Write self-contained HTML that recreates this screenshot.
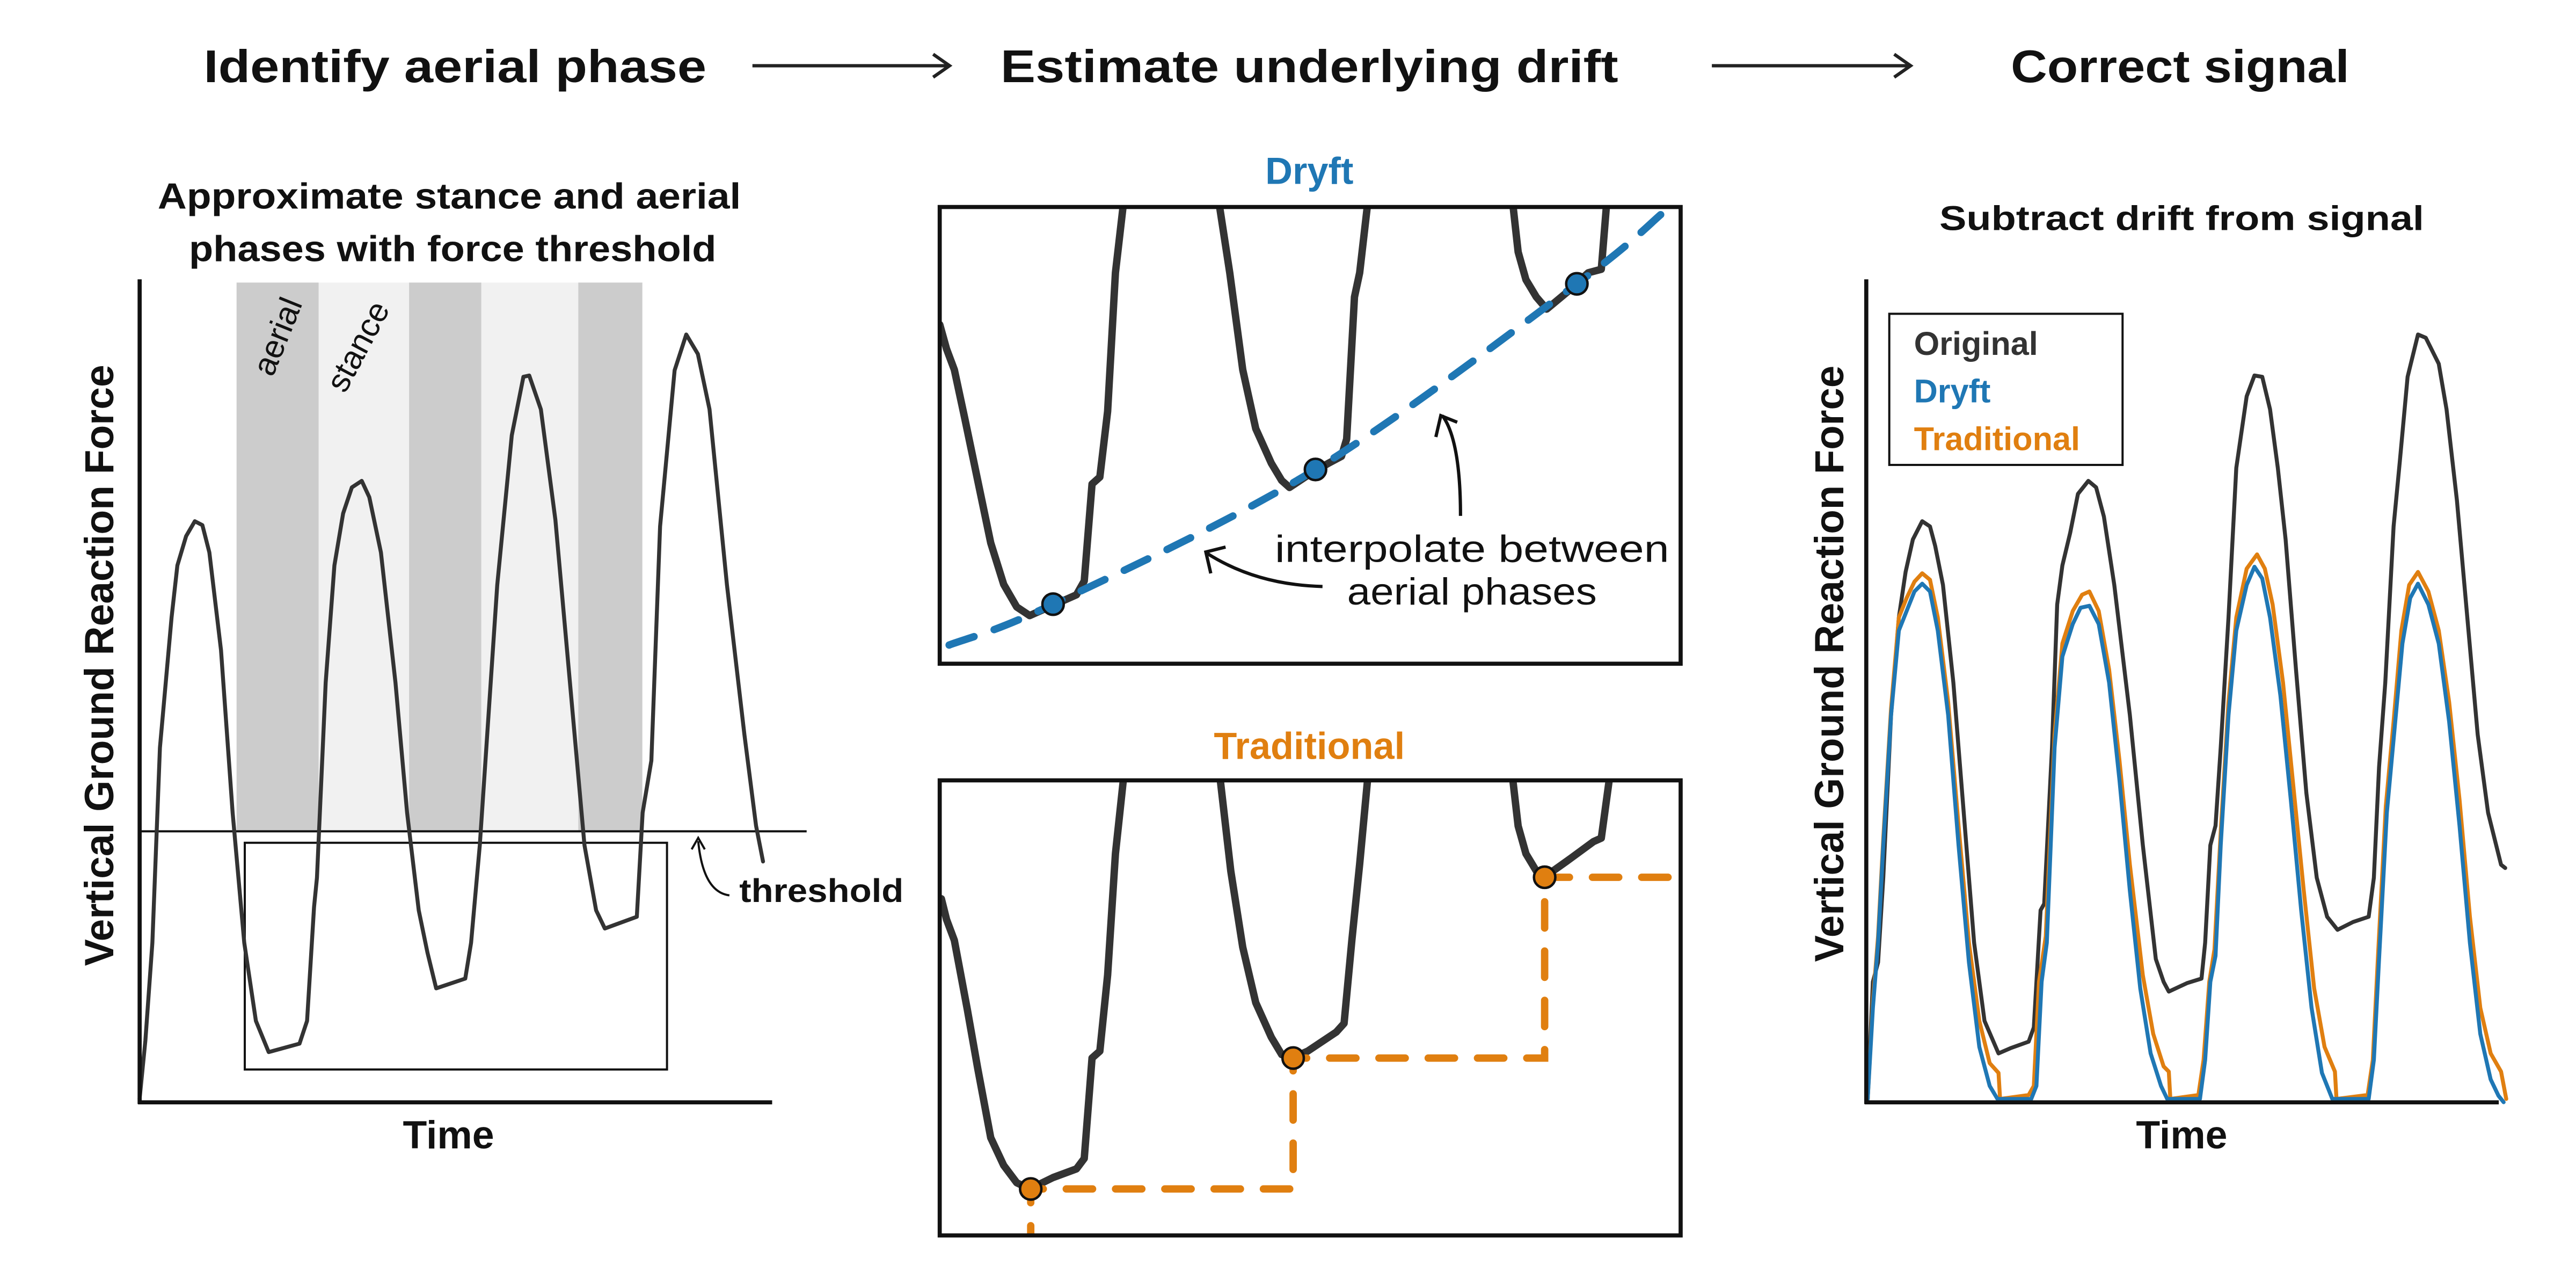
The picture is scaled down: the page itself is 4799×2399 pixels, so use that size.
<!DOCTYPE html>
<html><head><meta charset="utf-8"><style>
html,body{margin:0;padding:0;background:#fff}
svg{display:block}
text{font-family:"Liberation Sans",sans-serif;font-weight:bold}
</style></head><body>
<svg id="fig" width="4799" height="2399" viewBox="0 0 1568 784" preserveAspectRatio="none" xmlns="http://www.w3.org/2000/svg">
<defs>
<clipPath id="clipD"><rect x="572" y="126" width="451" height="278"/></clipPath>
<clipPath id="clipT"><rect x="572" y="475" width="451" height="276"/></clipPath>
</defs>
<!-- headers -->
<text x="124" y="50" font-size="28" textLength="306" lengthAdjust="spacingAndGlyphs" fill="#111">Identify aerial phase</text>
<text x="609" y="50" font-size="28" textLength="376" lengthAdjust="spacingAndGlyphs" fill="#111">Estimate underlying drift</text>
<text x="1224" y="50" font-size="28" textLength="206" lengthAdjust="spacingAndGlyphs" fill="#111">Correct signal</text>
<g stroke="#222" stroke-width="2" fill="none"><line x1="458" y1="40" x2="578" y2="40"/><polyline points="568,33 578,40 568,47"/></g>
<g stroke="#222" stroke-width="2" fill="none"><line x1="1042" y1="40" x2="1163" y2="40"/><polyline points="1153,33 1163,40 1153,47"/></g>

<!-- left panel -->
<text x="96" y="127" font-size="22" textLength="355" lengthAdjust="spacingAndGlyphs" fill="#111">Approximate stance and aerial</text>
<text x="115" y="159" font-size="22" textLength="321" lengthAdjust="spacingAndGlyphs" fill="#111">phases with force threshold</text>
<g>
<rect x="144" y="172" width="50" height="334" fill="#cccccc"/>
<rect x="194" y="172" width="55" height="334" fill="#f1f1f1"/>
<rect x="249" y="172" width="44" height="334" fill="#cccccc"/>
<rect x="293" y="172" width="59" height="334" fill="#f1f1f1"/>
<rect x="352" y="172" width="39" height="334" fill="#cccccc"/>
</g>
<text transform="translate(166,230) rotate(-68)" font-size="20" font-weight="normal" style="font-weight:normal" fill="#111">aerial</text>
<text transform="translate(210,240) rotate(-62)" font-size="20" style="font-weight:normal" fill="#111">stance</text>
<rect x="149" y="513" width="257" height="138" fill="none" stroke="#111" stroke-width="1.3"/>
<line x1="85" y1="506" x2="491" y2="506" stroke="#111" stroke-width="1.3"/>
<path d="M444,545 Q428,543 425,512" fill="none" stroke="#111" stroke-width="1.3"/>
<polyline points="421,517 425,510 429,517" fill="none" stroke="#111" stroke-width="1.3"/>
<text x="450" y="549" font-size="20" textLength="100" lengthAdjust="spacingAndGlyphs" fill="#111">threshold</text>
<g id="leftPlot"></g>
<line x1="85" y1="170" x2="85" y2="672" stroke="#111" stroke-width="2.5"/>
<line x1="84" y1="671" x2="470" y2="671" stroke="#111" stroke-width="2.5"/>
<text transform="translate(69,405) rotate(-90)" text-anchor="middle" font-size="25" textLength="366" lengthAdjust="spacingAndGlyphs" fill="#111">Vertical Ground Reaction Force</text>
<text x="273" y="699" text-anchor="middle" font-size="24" fill="#111">Time</text>

<!-- middle: dryft -->
<text x="797" y="112" text-anchor="middle" font-size="23" fill="#1f77b4">Dryft</text>
<g id="dryftPlot" clip-path="url(#clipD)"></g>
<g id="dryftMarks"></g>
<rect x="572" y="126" width="451" height="278" fill="none" stroke="#111" stroke-width="2.5"/>
<text x="896" y="342" text-anchor="middle" font-size="23" textLength="240" lengthAdjust="spacingAndGlyphs" style="font-weight:normal" fill="#111">interpolate between</text>
<text x="896" y="368" text-anchor="middle" font-size="23" textLength="152" lengthAdjust="spacingAndGlyphs" style="font-weight:normal" fill="#111">aerial phases</text>
<path d="M805,357 Q765,356 735,337" fill="none" stroke="#111" stroke-width="2"/>
<polyline points="737,349 734,336 746,333" fill="none" stroke="#111" stroke-width="2"/>
<path d="M889,314 Q889,268 878,253" fill="none" stroke="#111" stroke-width="2"/>
<polyline points="874,266 877,253 887,257" fill="none" stroke="#111" stroke-width="2"/>

<!-- middle: traditional -->
<text x="797" y="462" text-anchor="middle" font-size="23" fill="#e07f10">Traditional</text>
<g id="tradPlot" clip-path="url(#clipT)"></g>
<g id="tradMarks"></g>
<rect x="572" y="475" width="451" height="277" fill="none" stroke="#111" stroke-width="2.5"/>

<!-- right panel -->
<text x="1328" y="140" text-anchor="middle" font-size="21" textLength="295" lengthAdjust="spacingAndGlyphs" fill="#111">Subtract drift from signal</text>
<g id="rightPlot"></g>
<line x1="1136" y1="170" x2="1136" y2="672" stroke="#111" stroke-width="2.5"/>
<line x1="1135" y1="671" x2="1521" y2="671" stroke="#111" stroke-width="2.5"/>
<text transform="translate(1122,404) rotate(-90)" text-anchor="middle" font-size="25" textLength="363" lengthAdjust="spacingAndGlyphs" fill="#111">Vertical Ground Reaction Force</text>
<text x="1328" y="699" text-anchor="middle" font-size="24" fill="#111">Time</text>
<g>
<rect x="1150" y="191" width="142" height="92" fill="#fff" stroke="#111" stroke-width="1.3"/>
<text x="1165" y="216" font-size="20" fill="#333">Original</text>
<text x="1165" y="245" font-size="20" fill="#1f77b4">Dryft</text>
<text x="1165" y="274" font-size="20" fill="#e07f10">Traditional</text>
</g>
</svg>
<script>
// ---- left panel data (raw time / force units) ----
const leftTime=[240,250,262,275,295,305,320,335,348,360,380,400,420,440,462,515,528,540,545,560,575,590,605,622,635,655,680,700,720,735,750,800,810,825,855,880,900,910,930,955,985,1005,1025,1040,1095,1105,1120,1135,1160,1180,1200,1220,1250,1280,1300,1312];
const leftForce=[5,95,245,545,745,825,870,893,887,845,695,445,245,125,77,90,125,300,345,645,825,905,945,955,930,845,645,445,295,230,175,190,245,395,795,1025,1115,1117,1065,895,595,395,295,267,285,445,525,885,1125,1180,1150,1065,795,565,425,370];
// ---- right panel data ----
const origTime=[185,195,205,215,230,245,258,272,290,305,315,330,350,370,390,410,437,460,495,505,518,525,540,550,560,575,590,610,625,640,660,690,715,740,755,765,800,828,835,845,855,865,880,895,915,930,945,960,975,990,1010,1030,1050,1070,1090,1120,1150,1160,1170,1182,1198,1210,1225,1245,1260,1285,1300,1320,1340,1360,1380,1395,1405,1413];
const origForce=[5,185,215,345,595,745,815,865,893,885,855,795,645,445,245,125,75,83,93,115,295,305,545,765,825,875,935,955,945,900,795,595,395,220,185,170,183,190,245,395,425,545,745,975,1085,1117,1115,1065,975,865,665,475,345,285,265,277,285,345,515,645,885,985,1115,1180,1175,1135,1065,925,745,565,445,397,365,360];
const dryftTime=[185,195,205,215,230,245,260,275,290,305,320,340,360,380,400,420,435,500,510,520,530,545,560,580,595,612,630,650,670,690,710,730,750,762,825,835,845,855,865,880,895,915,930,945,960,980,1000,1020,1040,1060,1080,1150,1160,1170,1185,1200,1215,1230,1245,1265,1285,1305,1325,1345,1365,1385,1400,1410];
const dryftForce=[5,145,245,395,595,725,755,785,797,785,725,595,395,215,85,25,5,5,25,185,245,545,685,735,760,763,735,645,495,325,175,75,25,5,5,65,185,225,395,595,725,795,823,805,745,625,465,295,145,45,5,5,65,220,445,575,705,775,797,765,705,585,425,245,105,35,10,0];
const tradTime=[185,195,205,215,230,245,260,275,290,305,320,340,360,380,400,420,437,440,495,505,515,528,545,560,580,598,612,630,650,670,690,715,735,755,765,768,822,832,843,853,865,880,895,915,935,950,965,985,1005,1025,1045,1065,1085,1088,1148,1158,1168,1183,1198,1213,1228,1245,1265,1285,1305,1325,1345,1365,1385,1405,1415];
const tradForce=[5,155,255,405,605,745,775,800,813,803,745,615,425,245,125,60,45,5,11,25,185,255,565,705,755,780,785,755,665,525,365,195,105,55,47,5,11,65,185,235,415,615,745,820,842,820,765,645,485,325,175,85,47,5,11,65,225,455,585,725,795,815,785,725,615,465,285,145,75,47,5];
// ---- middle (zoomed) panels ----
const dSeg1T=[52,65,80,100,125,150,175,200,225,270,315,330,345,360,375,390,405,412];
const dSeg1F=[1050,980,920,780,600,420,300,235,210,240,270,310,590,610,800,1200,1395,1500];
const dSeg2T=[585,590,610,635,660,690,710,725,760,800,825,835,850,860,875,878];
const dSeg2F=[1500,1395,1200,920,750,650,600,580,615,650,670,720,1130,1200,1395,1500];
const dSeg3T=[1145,1155,1165,1180,1200,1220,1260,1300,1325,1335,1340];
const dSeg3F=[1500,1395,1260,1180,1130,1095,1145,1200,1210,1395,1500];
const driftT=[70,270,775,1278,1445];
const driftF=[125,243,632,1168,1375];
const tSeg1T=[55,65,80,105,125,150,175,200,225,270,315,330,345,360,375,390,405,410];
const tSeg1F=[1020,960,900,700,530,330,250,200,182,215,240,270,560,580,800,1150,1360,1450];
const tSeg2T=[585,592,612,635,660,690,710,730,760,815,830,845,860,875,878];
const tSeg2F=[1450,1360,1100,880,720,620,570,560,580,635,660,900,1120,1360,1450];
const tSeg3T=[1148,1155,1165,1180,1200,1215,1260,1310,1325,1340,1343];
const tSeg3F=[1450,1360,1230,1150,1100,1082,1130,1185,1195,1360,1450];
const stepT=[227,732,1216];
const stepF=[182,560,1082];
const stepEndT=1478;
const stepStartF=0;

// axis functions
const xLeft=t=>0.354*t, yLeft=f=>670.9-0.396*f;
const xRight=t=>1078.4+0.316*t, yRight=f=>670.9-0.396*f;
const xMid=t=>555.6+0.3163*t;
const yDryft=f=>81.7+0.2108*(1600-f);
const yTrad=f=>424.8+0.2108*(1600-f);
const NS='http://www.w3.org/2000/svg';

function pts(T,F,xs,ys){return T.map((t,i)=>xs(t).toFixed(2)+','+ys(F[i]).toFixed(2)).join(' ');}
function poly(parent,T,F,xs,ys,color,w){
  const p=document.createElementNS(NS,'polyline');
  p.setAttribute('points',pts(T,F,xs,ys));
  p.setAttribute('fill','none');p.setAttribute('stroke',color);p.setAttribute('stroke-width',w);
  p.setAttribute('stroke-linejoin','round');p.setAttribute('stroke-linecap','round');
  parent.appendChild(p);return p;
}
function dot(parent,cx,cy,color){
  const c=document.createElementNS(NS,'circle');
  c.setAttribute('cx',cx);c.setAttribute('cy',cy);c.setAttribute('r',6.5);
  c.setAttribute('fill',color);c.setAttribute('stroke','#111');c.setAttribute('stroke-width',1.5);
  parent.appendChild(c);return c;
}
// left
let el=poly(document.getElementById('leftPlot'),leftTime,leftForce,xLeft,yLeft,'#333',2.4);


// right
const rp=document.getElementById('rightPlot');
el=poly(rp,origTime,origForce,xRight,yRight,'#333',2.4);


el=poly(rp,tradTime,tradForce,xRight,yRight,'#e07f10',2.4);


el=poly(rp,dryftTime,dryftForce,xRight,yRight,'#1f77b4',2.4);


// dryft middle
const dp=document.getElementById('dryftPlot');
[[dSeg1T,dSeg1F],[dSeg2T,dSeg2F],[dSeg3T,dSeg3F]].forEach(([T,F],i)=>{
  const s=poly(dp,T,F,xMid,yDryft,'#333',4.5);
  
  
});
// smooth drift curve (catmull-rom)
const P=driftT.map((t,i)=>[xMid(t),yDryft(driftF[i])]);
let d='M'+P[0][0]+','+P[0][1];
for(let i=0;i<P.length-1;i++){
  const p0=P[Math.max(i-1,0)],p1=P[i],p2=P[i+1],p3=P[Math.min(i+2,P.length-1)];
  const c1=[p1[0]+(p2[0]-p0[0])/6,p1[1]+(p2[1]-p0[1])/6];
  const c2=[p2[0]-(p3[0]-p1[0])/6,p2[1]-(p3[1]-p1[1])/6];
  d+=' C'+c1.join(',')+' '+c2.join(',')+' '+p2.join(',');
}
const dl=document.createElementNS(NS,'path');
dl.setAttribute('d',d);dl.setAttribute('fill','none');dl.setAttribute('stroke','#1f77b4');
dl.setAttribute('stroke-width',4.5);dl.setAttribute('stroke-dasharray','16 13');dl.setAttribute('stroke-linecap','round');


dp.appendChild(dl);
const dm=document.getElementById('dryftMarks');
[1,2,3].forEach(i=>{
  const c=dot(dm,xMid(driftT[i]),yDryft(driftF[i]),'#1f77b4');
  
  
});
// traditional middle
const tp=document.getElementById('tradPlot');
[[tSeg1T,tSeg1F],[tSeg2T,tSeg2F],[tSeg3T,tSeg3F]].forEach(([T,F],i)=>{
  const s=poly(tp,T,F,xMid,yTrad,'#333',4.5);
  
  
});
let sd='M'+xMid(stepT[0])+','+yTrad(stepStartF);
for(let i=0;i<stepT.length;i++){
  sd+=' L'+xMid(stepT[i])+','+yTrad(stepF[i]);
  const nx=i<stepT.length-1?stepT[i+1]:stepEndT;
  sd+=' L'+xMid(nx)+','+yTrad(stepF[i]);
}
const sl=document.createElementNS(NS,'path');
sl.setAttribute('d',sd);sl.setAttribute('fill','none');sl.setAttribute('stroke','#e07f10');
sl.setAttribute('stroke-width',4.5);sl.setAttribute('stroke-dasharray','16 14');sl.setAttribute('stroke-linecap','round');


tp.appendChild(sl);
const tm=document.getElementById('tradMarks');
stepT.forEach((t,i)=>{
  const c=dot(tm,xMid(t),yTrad(stepF[i]),'#e07f10');
  
  
});
</script>
</body></html>
